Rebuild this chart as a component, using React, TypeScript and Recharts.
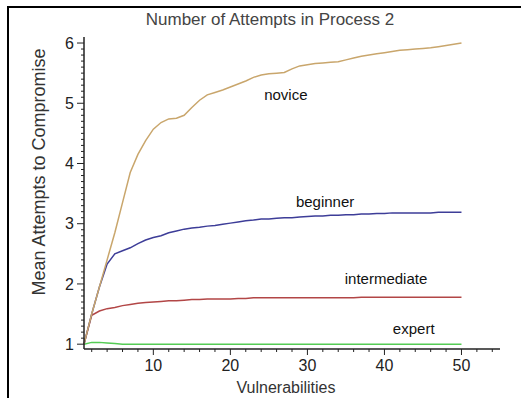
import { LineChart, Line, XAxis, YAxis, ReferenceDot } from "recharts";

// vulnerabilities 1..50
const vulnerabilities = [
  1, 2, 3, 4, 5, 6, 7, 8, 9, 10, 11, 12, 13, 14, 15, 16, 17, 18, 19, 20, 21, 22, 23, 24, 25,
  26, 27, 28, 29, 30, 31, 32, 33, 34, 35, 36, 37, 38, 39, 40, 41, 42, 43, 44, 45, 46, 47, 48, 49, 50,
];

const novice = [
  1.0, 1.5, 1.95, 2.4, 2.85, 3.35, 3.85, 4.15, 4.38, 4.57, 4.68, 4.74, 4.75, 4.8, 4.93, 5.05, 5.14,
  5.18, 5.22, 5.27, 5.32, 5.37, 5.43, 5.47, 5.49, 5.5, 5.51, 5.57, 5.62, 5.64, 5.66, 5.67, 5.68, 5.69,
  5.72, 5.75, 5.78, 5.8, 5.82, 5.84, 5.86, 5.88, 5.89, 5.9, 5.91, 5.92, 5.94, 5.96, 5.98, 6.0,
];

const beginner = [
  1.0, 1.5, 1.95, 2.33, 2.5, 2.55, 2.6, 2.67, 2.73, 2.77, 2.8, 2.85, 2.88, 2.91, 2.93, 2.94, 2.96,
  2.97, 2.99, 3.01, 3.03, 3.05, 3.06, 3.08, 3.08, 3.09, 3.1, 3.1, 3.11, 3.12, 3.13, 3.13, 3.14, 3.14,
  3.15, 3.15, 3.16, 3.16, 3.17, 3.17, 3.18, 3.18, 3.18, 3.18, 3.18, 3.18, 3.19, 3.19, 3.19, 3.19,
];

const intermediate = [
  1.0, 1.48, 1.55, 1.59, 1.61, 1.64, 1.66, 1.68, 1.69, 1.7, 1.71, 1.72, 1.72, 1.73, 1.74, 1.74, 1.75,
  1.75, 1.75, 1.75, 1.76, 1.76, 1.77, 1.77, 1.77, 1.77, 1.77, 1.77, 1.77, 1.77, 1.77, 1.77, 1.77, 1.77,
  1.77, 1.77, 1.78, 1.78, 1.78, 1.78, 1.78, 1.78, 1.78, 1.78, 1.78, 1.78, 1.78, 1.78, 1.78, 1.78,
];

const expert = [
  1.0, 1.03, 1.03, 1.02, 1.01, 1.0, 1.0, 1.0, 1.0, 1.0, 1.0, 1.0, 1.0, 1.0, 1.0, 1.0, 1.0, 1.0, 1.0,
  1.0, 1.0, 1.0, 1.0, 1.0, 1.0, 1.0, 1.0, 1.0, 1.0, 1.0, 1.0, 1.0, 1.0, 1.0, 1.0, 1.0, 1.0, 1.0, 1.0,
  1.0, 1.0, 1.0, 1.0, 1.0, 1.0, 1.0, 1.0, 1.0, 1.0, 1.0,
];

const yMajor = [1, 2, 3, 4, 5, 6];
const xMajor = [10, 20, 30, 40, 50];

// where the in-plot series names sit (data coords)
const seriesLabels = [
  { name: "novice", x: 27.2, y: 5.14 },
  { name: "beginner", x: 32.3, y: 3.36 },
  { name: "intermediate", x: 40.2, y: 2.08 },
  { name: "expert", x: 43.8, y: 1.25 },
];

const data = vulnerabilities.map((v, i) => ({
  x: v,
  novice: novice[i],
  beginner: beginner[i],
  intermediate: intermediate[i],
  expert: expert[i],
}));

// minor tick marks: y every 0.1, x every 2
const yTicks = Array.from({ length: 51 }, (_, i) => Math.round(10 + i) / 10);
const xTicks = Array.from({ length: 27 }, (_, i) => 2 + i * 2);

const FONT = "'Liberation Sans', Arial, sans-serif";
const AXIS = "#222";

function YTick({ x, y, payload }: any) {
  const v = payload.value;
  const major = yMajor.some((m) => Math.abs(m - v) < 1e-6);
  return (
    <g>
      <line x1={x} x2={x - (major ? 7 : 3)} y1={y} y2={y} stroke={AXIS} strokeWidth={1} />
      {major && (
        <text x={x - 10} y={y} dy="0.36em" textAnchor="end" fontSize={16} fill="#222" fontFamily={FONT}>
          {v}
        </text>
      )}
    </g>
  );
}

function XTick({ x, y, payload }: any) {
  const v = payload.value;
  const major = xMajor.includes(v);
  return (
    <g>
      <line x1={x} x2={x} y1={y} y2={y + (major ? 6 : 3)} stroke={AXIS} strokeWidth={1} />
      {major && (
        <text x={x} y={y + 10} dy="0.72em" textAnchor="middle" fontSize={16} fill="#222" fontFamily={FONT}>
          {v}
        </text>
      )}
    </g>
  );
}

export default function App() {
  return (
    <div style={{ position: "absolute", left: 0, top: 0, width: 521, height: 398, background: "#fff", fontFamily: FONT }}>
      <div
        style={{
          position: "absolute",
          left: 7,
          top: 6,
          width: 514,
          height: 392,
          borderTop: "2px solid #000",
          borderLeft: "2px solid #000",
          boxSizing: "border-box",
        }}
      />
      <div style={{ position: "absolute", left: 0, top: 0 }}>
        <LineChart width={521} height={398} data={data} margin={{ top: 37, right: 21, bottom: 0, left: 24 }}>
          <XAxis
            dataKey="x"
            type="number"
            domain={[1, 55]}
            ticks={xTicks}
            interval={0}
            height={49}
            tickSize={0}
            tickMargin={0}
            tickLine={false}
            tick={<XTick />}
            axisLine={{ stroke: AXIS, strokeWidth: 1.5 }}
          />
          <YAxis
            type="number"
            domain={[0.92, 6.1]}
            ticks={yTicks}
            interval={0}
            width={60}
            tickSize={0}
            tickMargin={0}
            tickLine={false}
            tick={<YTick />}
            axisLine={{ stroke: AXIS, strokeWidth: 1.5 }}
          />
          <Line type="linear" dataKey="expert" stroke="#55cc55" strokeWidth={1.5} dot={false} isAnimationActive={false} />
          <Line type="linear" dataKey="intermediate" stroke="#b24646" strokeWidth={1.5} dot={false} isAnimationActive={false} />
          <Line type="linear" dataKey="beginner" stroke="#3d3d98" strokeWidth={1.5} dot={false} isAnimationActive={false} />
          <Line type="linear" dataKey="novice" stroke="#c9a66c" strokeWidth={1.5} dot={false} isAnimationActive={false} />
          {seriesLabels.map((s) => (
            <ReferenceDot
              key={s.name}
              x={s.x}
              y={s.y}
              r={0}
              fill="none"
              stroke="none"
              label={{ value: s.name, position: "center", fill: "#111", fontSize: 15, fontFamily: FONT }}
            />
          ))}
        </LineChart>
      </div>
      <div
        style={{
          position: "absolute",
          left: 0,
          width: 540,
          top: 10,
          lineHeight: "20px",
          textAlign: "center",
          fontSize: 17,
          color: "#444",
        }}
      >
        Number of Attempts in Process 2
      </div>
      <div
        style={{
          position: "absolute",
          left: 186,
          width: 200,
          top: 378,
          lineHeight: "20px",
          textAlign: "center",
          fontSize: 16,
          color: "#333",
        }}
      >
        Vulnerabilities
      </div>
      <div
        style={{
          position: "absolute",
          left: 39,
          top: 172,
          transform: "translate(-50%, -50%) rotate(-90deg)",
          whiteSpace: "nowrap",
          fontSize: 18,
          lineHeight: "20px",
          color: "#333",
        }}
      >
        Mean Attempts to Compromise
      </div>
    </div>
  );
}
